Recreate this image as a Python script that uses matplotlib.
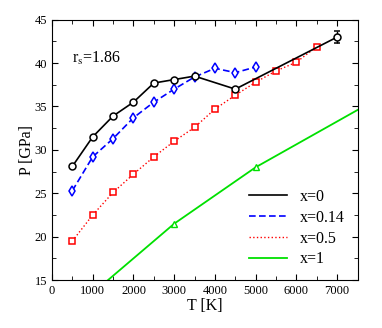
import numpy as np
import matplotlib.pyplot as plt
from matplotlib.ticker import MultipleLocator
from matplotlib.lines import Line2D

plt.rcParams['font.family'] = ['Liberation Serif', 'DejaVu Serif']
plt.rcParams['mathtext.fontset'] = 'stix'

# x=0
T0 = [500, 1000, 1500, 2000, 2500, 3000, 3500, 4500, 7000]
P0 = [28.1, 31.5, 33.9, 35.5, 37.7, 38.1, 38.5, 37.0, 43.0]
err0 = [0, 0, 0, 0, 0, 0, 0, 0, 0.7]

# x=0.14
T014 = [500, 1000, 1500, 2000, 2500, 3000, 3500, 4000, 4500, 5000]
P014 = [25.3, 29.2, 31.3, 33.7, 35.5, 37.0, 38.4, 39.4, 38.9, 39.55]

# x=0.5
T05 = [500, 1000, 1500, 2000, 2500, 3000, 3500, 4000, 4500, 5000, 5500, 6000, 6500]
P05 = [19.5, 22.5, 25.1, 27.2, 29.2, 31.0, 32.6, 34.7, 36.3, 37.8, 39.1, 40.1, 41.9]

# x=1 (markers only at 3000 and 5000)
T1 = [1000, 3000, 5000, 7500]
P1 = [13.5, 21.5, 28.0, 34.6]
mark1 = [1, 2]

labels = ['x=0', 'x=0.14', 'x=0.5', 'x=1']
blue = '#0000ff'
red = '#ff0000'
green = '#00e000'

fig = plt.figure(figsize=(3.82, 3.28), dpi=100)
ax = fig.add_axes([0.136, 0.146, 0.800, 0.794])

ax.errorbar(T0, P0, yerr=err0, color='k', lw=1.2, marker='o', ms=5,
            mfc='white', mec='k', mew=1.1, capsize=2, elinewidth=1.0)
ax.plot(T014, P014, color=blue, lw=1.2, ls=(0, (4, 2)), marker='d', ms=5.5,
        mfc='white', mec=blue, mew=1.1)
ax.plot(T05, P05, color=red, lw=1.0, ls=':', marker='s', ms=5,
        mfc='white', mec=red, mew=1.1)
ax.plot(T1, P1, color=green, lw=1.3, marker='^', ms=4.5, markevery=mark1,
        mfc='white', mec=green, mew=1.0)

ax.set_xlim(0, 7500)
ax.set_ylim(15, 45)
ax.xaxis.set_major_locator(MultipleLocator(1000))
ax.xaxis.set_minor_locator(MultipleLocator(500))
ax.yaxis.set_major_locator(MultipleLocator(5))
ax.yaxis.set_minor_locator(MultipleLocator(2.5))
ax.tick_params(which='both', direction='in', top=True, right=True, labelsize=9)
ax.tick_params(which='major', length=4)
ax.tick_params(which='minor', length=3)
ax.set_xlabel('T [K]', fontsize=11.5, labelpad=1)
ax.set_ylabel('P [GPa]', fontsize=11.5, labelpad=0)

ax.text(500, 40.0, r'r$_{\rm s}$=1.86', fontsize=11.5)

handles = [Line2D([], [], color='k', lw=1.2),
           Line2D([], [], color=blue, lw=1.2, ls=(0, (4, 2))),
           Line2D([], [], color=red, lw=1.0, ls=':'),
           Line2D([], [], color=green, lw=1.3)]
ax.legend(handles, labels, loc='lower right', frameon=False, fontsize=11.5,
          handlelength=2.4, labelspacing=0.3, borderaxespad=0.4)

plt.savefig('out.png', dpi=100)
